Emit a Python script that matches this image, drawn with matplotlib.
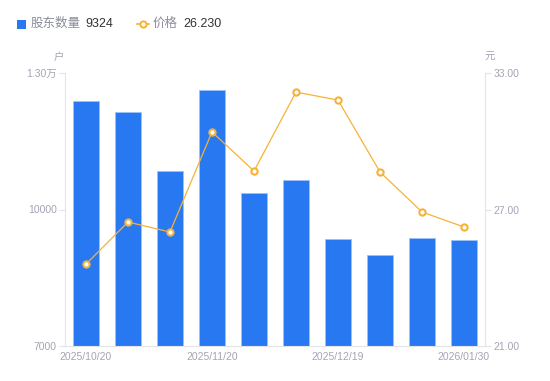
import matplotlib
matplotlib.use("Agg")
import matplotlib.pyplot as plt
import numpy as np

plt.rcParams['font.family'] = ['Liberation Sans', 'Noto Sans CJK SC', 'DejaVu Sans']

dates = ["2025/10/20", "", "", "2025/11/20", "", "", "2025/12/19", "", "", "2026/01/30"]
holders = [12385, 12143, 10846, 12626, 10363, 10648, 9352, 9000, 9374, 9324]
price = [24.60, 26.45, 26.01, 30.41, 28.69, 32.16, 31.81, 28.65, 26.89, 26.23]
left_ticks = [7000, 10000, 13000]
left_labels = ["7000", "10000", "1.30万"]
right_ticks = [21, 27, 33]
right_labels = ["21.00", "27.00", "33.00"]

BLUE = "#2878f2"
ORANGE = "#f7b236"
GRAY = "#a3a5b3"
AX = "#e3e4e8"

fig = plt.figure(figsize=(5.5, 3.81), dpi=100)
ax = fig.add_axes([65/550, 1-346/381, 420/550, 273/381])
x = np.arange(len(holders))
ax.bar(x, [h - 7000 for h in holders], bottom=7000, width=0.6, color=BLUE,
       edgecolor="#9cc2fb", linewidth=0.6, zorder=2)
ax.set_xlim(-0.5, len(holders) - 0.5)
ax.set_ylim(7000, 13000)
ax.set_yticks(left_ticks)
ax.set_yticklabels(left_labels)
ax.set_xticks(x)
ax.set_xticklabels(dates)
for s in ["top", "right"]:
    ax.spines[s].set_visible(False)
ax.spines["left"].set_color(AX)
ax.spines["bottom"].set_color(AX)
ax.tick_params(axis="y", colors=AX, labelcolor=GRAY, labelsize=7.5, length=4, width=0.8, pad=2)
ax.tick_params(axis="x", length=0, labelcolor=GRAY, labelsize=7.5, pad=4)

ax2 = ax.twinx()
ax2.plot(x, price, color=ORANGE, linewidth=0.9, marker="o", markersize=4.5,
         markerfacecolor="white", markeredgecolor=ORANGE, markeredgewidth=1.5, zorder=3)
ax2.set_ylim(21, 33)
ax2.set_yticks(right_ticks)
ax2.set_yticklabels(right_labels)
for s in ["top", "left", "bottom"]:
    ax2.spines[s].set_visible(False)
ax2.spines["right"].set_color(AX)
ax2.tick_params(axis="y", colors=AX, labelcolor=GRAY, labelsize=7.5, length=4, width=0.8, pad=2)

fig.text(59/550, 1-57/381, "户", color=GRAY, fontsize=7.5, ha="center", va="center")
fig.text(490/550, 1-57/381, "元", color=GRAY, fontsize=7.5, ha="center", va="center")

# legend
fig.patches.append(plt.Rectangle((17/550, 1-29/381), 9/550, 9/381, transform=fig.transFigure,
                                 facecolor=BLUE, edgecolor="none"))
fig.text(31/550, 1-24/381, "股东数量", color="#8a8c99", fontsize=9, va="center")
fig.text(85/550, 1-24/381, f"{holders[-1]}", color="#333333", fontsize=9, va="center")
fig.add_artist(plt.Line2D([137/550, 149/550], [1-24/381, 1-24/381], color=ORANGE, linewidth=1.2,
                          transform=fig.transFigure))
fig.add_artist(plt.Line2D([143/550], [1-24/381], marker="o", markersize=4.5, markerfacecolor="white",
                          markeredgecolor=ORANGE, markeredgewidth=1.4, transform=fig.transFigure))
fig.text(153/550, 1-24/381, "价格", color="#8a8c99", fontsize=9, va="center")
fig.text(183/550, 1-24/381, f"{price[-1]:.3f}", color="#333333", fontsize=9, va="center")

fig.savefig("out.png", dpi=100)
